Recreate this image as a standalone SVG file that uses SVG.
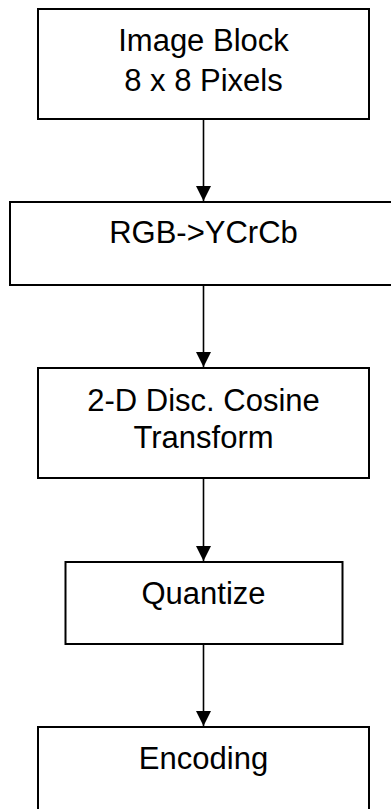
<svg xmlns="http://www.w3.org/2000/svg" width="391" height="809" viewBox="0 0 391 809">
  <style>
    .box { fill: #ffffff; stroke: #000000; stroke-width: 2; }
    .lbl { font-family: "Liberation Sans", Arial, sans-serif; font-size: 31px; fill: #000000; text-anchor: middle; }
    .edge { stroke: #000000; stroke-width: 1.6; fill: none; marker-end: url(#arrow); }
  </style>
  <defs>
    <marker id="arrow" markerUnits="userSpaceOnUse" markerWidth="16" markerHeight="16" viewBox="0 0 16 16" refX="15" refY="8" orient="auto">
      <path d="M0,0.5 L15,8 L0,15.5 Z" fill="#000000"/>
    </marker>
  </defs>
  <rect width="391" height="809" fill="#ffffff"/>

  <g id="connectors">
    <path class="edge" d="M203.5,119 L203.5,201"/>
    <path class="edge" d="M203.5,285 L203.5,367"/>
    <path class="edge" d="M203.5,478 L203.5,561"/>
    <path class="edge" d="M203.5,644 L203.5,726"/>
  </g>

  <g id="image-block">
    <rect class="box" x="38" y="9" width="331" height="110"/>
    <text class="lbl" x="203.5" y="50.5">Image Block</text>
    <text class="lbl" x="203.5" y="90.5">8 x 8 Pixels</text>
  </g>

  <g id="rgb-ycrcb">
    <rect class="box" x="10" y="202" width="400" height="83"/>
    <text class="lbl" x="203.5" y="243">RGB-&gt;YCrCb</text>
  </g>

  <g id="dct">
    <rect class="box" x="38" y="368" width="331" height="110"/>
    <text class="lbl" x="203.5" y="410.5">2-D Disc. Cosine</text>
    <text class="lbl" x="203.5" y="448">Transform</text>
  </g>

  <g id="quantize">
    <rect class="box" x="65.5" y="562" width="277" height="82"/>
    <text class="lbl" x="203.5" y="604">Quantize</text>
  </g>

  <g id="encoding">
    <rect class="box" x="38" y="727" width="331" height="110"/>
    <text class="lbl" x="203.5" y="769">Encoding</text>
  </g>
</svg>
